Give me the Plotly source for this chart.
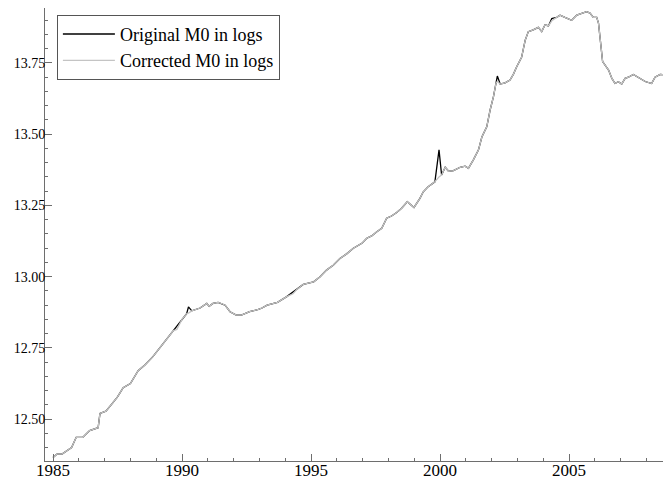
import plotly.graph_objects as go

# decimal years of the readings
years = [
    1985.00, 1985.15, 1985.35, 1985.55, 1985.72, 1985.90, 1986.15, 1986.42, 1986.75, 1986.82,
    1987.05, 1987.30, 1987.50, 1987.72, 1988.00, 1988.30, 1988.56, 1988.88, 1989.27, 1989.66,
    1989.80, 1990.00, 1990.18, 1990.25, 1990.38, 1990.70, 1990.96, 1991.05, 1991.20, 1991.40,
    1991.55, 1991.67, 1991.86, 1992.10, 1992.30, 1992.62, 1992.96, 1993.10, 1993.30, 1993.50,
    1993.70, 1994.06, 1994.30, 1994.45, 1994.70, 1995.10, 1995.35, 1995.60, 1995.86, 1996.12,
    1996.38, 1996.64, 1996.97, 1997.16, 1997.35, 1997.55, 1997.74, 1997.93, 1998.12, 1998.32,
    1998.51, 1998.73, 1998.99, 1999.22, 1999.35, 1999.54, 1999.80, 1999.96, 2000.06, 2000.20,
    2000.33, 2000.52, 2000.78, 2000.97, 2001.10, 2001.29, 2001.49, 2001.62, 2001.81, 2001.94,
    2002.07, 2002.17, 2002.22, 2002.33, 2002.52, 2002.71, 2002.84, 2002.97, 2003.10, 2003.16,
    2003.30, 2003.42, 2003.61, 2003.81, 2003.94, 2004.07, 2004.20, 2004.33, 2004.52, 2004.65,
    2004.84, 2005.10, 2005.30, 2005.49, 2005.68, 2005.81, 2005.94, 2006.07, 2006.14, 2006.30,
    2006.53, 2006.66, 2006.78, 2006.91, 2007.04, 2007.17, 2007.30, 2007.49, 2007.68, 2007.95,
    2008.20, 2008.33, 2008.53, 2008.72,
]

corrected_m0 = [
    12.365, 12.377, 12.377, 12.390, 12.400, 12.436, 12.436, 12.460, 12.470, 12.520,
    12.528, 12.555, 12.578, 12.610, 12.625, 12.670, 12.690, 12.720, 12.766, 12.810,
    12.815, 12.850, 12.870, 12.872, 12.880, 12.890, 12.906, 12.896, 12.906, 12.910,
    12.905, 12.900, 12.877, 12.865, 12.865, 12.877, 12.885, 12.890, 12.900, 12.905,
    12.910, 12.930, 12.940, 12.955, 12.973, 12.982, 13.000, 13.023, 13.040, 13.064,
    13.080, 13.100, 13.117, 13.135, 13.143, 13.158, 13.170, 13.205, 13.213, 13.225,
    13.240, 13.263, 13.243, 13.275, 13.298, 13.316, 13.333, 13.350, 13.357, 13.384,
    13.370, 13.372, 13.384, 13.388, 13.380, 13.410, 13.445, 13.490, 13.526, 13.585,
    13.632, 13.680, 13.685, 13.676, 13.680, 13.690, 13.710, 13.737, 13.760, 13.770,
    13.830, 13.860, 13.866, 13.875, 13.860, 13.884, 13.880, 13.898, 13.910, 13.918,
    13.910, 13.900, 13.918, 13.925, 13.930, 13.925, 13.910, 13.910, 13.890, 13.755,
    13.725, 13.696, 13.678, 13.684, 13.676, 13.696, 13.700, 13.710, 13.700, 13.685,
    13.678, 13.700, 13.710, 13.708,
]

original_m0 = [
    12.365, 12.377, 12.377, 12.390, 12.400, 12.436, 12.436, 12.460, 12.470, 12.520,
    12.528, 12.555, 12.578, 12.610, 12.625, 12.670, 12.690, 12.720, 12.766, 12.810,
    12.828, 12.850, 12.870, 12.894, 12.880, 12.890, 12.906, 12.896, 12.906, 12.910,
    12.905, 12.900, 12.877, 12.865, 12.865, 12.877, 12.885, 12.890, 12.900, 12.905,
    12.910, 12.930, 12.946, 12.955, 12.973, 12.982, 13.000, 13.023, 13.040, 13.064,
    13.080, 13.100, 13.117, 13.135, 13.143, 13.158, 13.170, 13.205, 13.213, 13.225,
    13.240, 13.263, 13.243, 13.275, 13.298, 13.316, 13.333, 13.445, 13.357, 13.384,
    13.370, 13.372, 13.384, 13.388, 13.380, 13.410, 13.445, 13.490, 13.526, 13.585,
    13.632, 13.680, 13.704, 13.676, 13.680, 13.690, 13.710, 13.737, 13.760, 13.770,
    13.830, 13.860, 13.866, 13.875, 13.860, 13.884, 13.880, 13.906, 13.910, 13.918,
    13.910, 13.900, 13.918, 13.925, 13.930, 13.925, 13.910, 13.910, 13.890, 13.755,
    13.725, 13.696, 13.678, 13.684, 13.676, 13.696, 13.700, 13.710, 13.700, 13.685,
    13.678, 13.700, 13.710, 13.708,
]

x_ticks = [1985, 1990, 1995, 2000, 2005]
y_ticks = [12.50, 12.75, 13.00, 13.25, 13.50, 13.75]

axis_col = "#6e6e6e"
serif = "Liberation Serif"

fig = go.Figure()

# original first so the corrected line sits on top of it
fig.add_trace(go.Scatter(
    x=years, y=original_m0, mode="lines", name="Original M0 in logs",
    line=dict(color="black", width=1.3),
))
fig.add_trace(go.Scatter(
    x=years, y=corrected_m0, mode="lines", name="Corrected M0 in logs",
    line=dict(color="#c4c4c4", width=1.3),
))

# the page body adds an 8px margin, so the figure is 8px smaller than the window
fig.update_layout(
    width=663, height=477,
    margin=dict(l=37, r=0, t=0, b=24),
    plot_bgcolor="white", paper_bgcolor="white",
    font=dict(family=serif, color="black"),
    legend=dict(
        x=0.019, y=0.985, xanchor="left", yanchor="top",
        bordercolor="#555555", borderwidth=1, bgcolor="white",
        font=dict(family=serif, size=18),
        itemwidth=52,
        tracegroupgap=0,
    ),
)

fig.update_xaxes(
    range=[1984.69, 2008.95], automargin=False,
    tickvals=x_ticks, ticktext=[str(v) for v in x_ticks],
    ticks="inside", ticklen=7, tickcolor=axis_col, tickwidth=1,
    minor=dict(dtick=1, tick0=1985, ticks="inside", ticklen=3, tickcolor=axis_col),
    showline=True, linecolor=axis_col, linewidth=1,
    showgrid=False, zeroline=False,
    tickfont=dict(family=serif, size=17),
    ticklabelstandoff=-6,
)
fig.update_yaxes(
    range=[12.353, 13.943], automargin=False,
    tickvals=y_ticks, ticktext=[f"{v:.2f}" for v in y_ticks],
    ticks="inside", ticklen=7, tickcolor=axis_col, tickwidth=1,
    minor=dict(dtick=0.05, tick0=12.5, ticks="inside", ticklen=3, tickcolor=axis_col),
    showline=True, linecolor=axis_col, linewidth=1,
    showgrid=False, zeroline=False,
    tickfont=dict(family=serif, size=14),
    ticklabelstandoff=-4,
)

fig.write_html("out.html")
